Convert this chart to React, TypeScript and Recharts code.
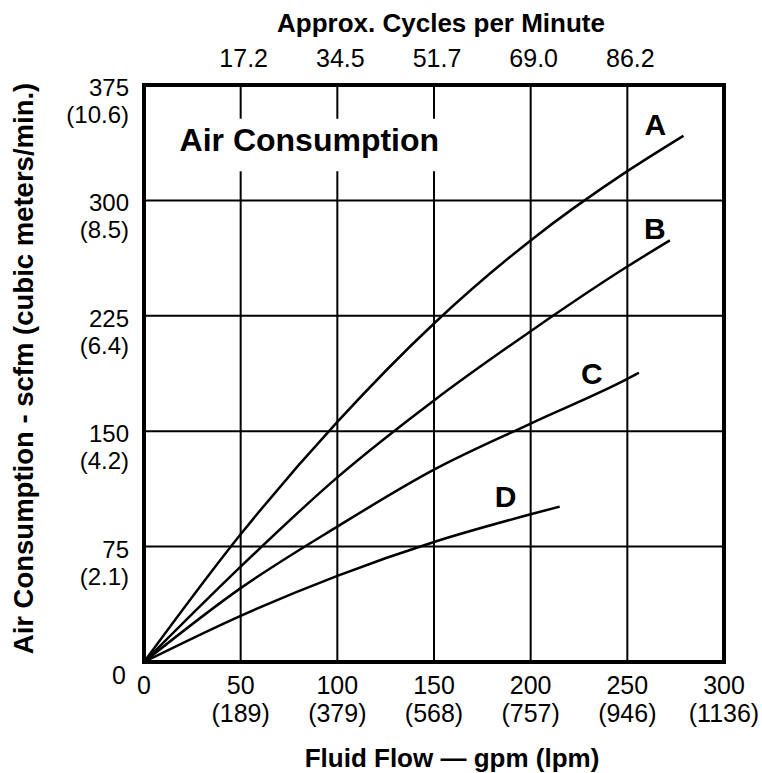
import React from 'react';
import { LineChart, Line, XAxis, YAxis, CartesianGrid, ReferenceArea } from 'recharts';

// fluid flow (gpm) vs air consumption (scfm)
const curveA = [
  { gpm: 0, scfm: 0 },
  { gpm: 50, scfm: 83 },
  { gpm: 100, scfm: 156 },
  { gpm: 150, scfm: 220 },
  { gpm: 200, scfm: 274 },
  { gpm: 250, scfm: 319 },
  { gpm: 279, scfm: 342 },
];
const curveB = [
  { gpm: 0, scfm: 0 },
  { gpm: 50, scfm: 62 },
  { gpm: 100, scfm: 120 },
  { gpm: 150, scfm: 170 },
  { gpm: 200, scfm: 215 },
  { gpm: 250, scfm: 257 },
  { gpm: 272, scfm: 274 },
];
const curveC = [
  { gpm: 0, scfm: 0 },
  { gpm: 50, scfm: 48 },
  { gpm: 100, scfm: 88 },
  { gpm: 150, scfm: 125 },
  { gpm: 200, scfm: 155 },
  { gpm: 250, scfm: 184 },
  { gpm: 256, scfm: 188 },
];
const curveD = [
  { gpm: 0, scfm: 0 },
  { gpm: 50, scfm: 30 },
  { gpm: 100, scfm: 56 },
  { gpm: 150, scfm: 78 },
  { gpm: 200, scfm: 96 },
  { gpm: 215, scfm: 101 },
];

const gpmTicks = [0, 50, 100, 150, 200, 250, 300];
const lpmLabels = ['', '(189)', '(379)', '(568)', '(757)', '(946)', '(1136)'];
const cycleTicks = [50, 100, 150, 200, 250];
const cycleLabels = ['17.2', '34.5', '51.7', '69.0', '86.2'];
const scfmTicks = [0, 75, 150, 225, 300, 375];
const cmmLabels = ['', '(2.1)', '(4.2)', '(6.4)', '(8.5)', '(10.6)'];

// rows for the axes to build their scales from
const axisRows = gpmTicks.map((g, i) => ({ gpm: g, scfm: scfmTicks[Math.min(i, scfmTicks.length - 1)] }));

const FONT = '"Liberation Sans", Arial, Helvetica, sans-serif';

const BottomTick = (props: any) => {
  const { x, y, payload } = props;
  const i = gpmTicks.indexOf(payload.value);
  return (
    <g>
      <text x={x} y={y + 30} textAnchor="middle" fontSize={25} fontFamily={FONT} fill="#000">
        {payload.value}
      </text>
      {lpmLabels[i] && (
        <text x={x} y={y + 58} textAnchor="middle" fontSize={25} fontFamily={FONT} fill="#000">
          {lpmLabels[i]}
        </text>
      )}
    </g>
  );
};

const TopTick = (props: any) => {
  const { x, y, payload } = props;
  const i = cycleTicks.indexOf(payload.value);
  return (
    <text x={x + 3} y={y - 16} textAnchor="middle" fontSize={25} fontFamily={FONT} fill="#000">
      {cycleLabels[i]}
    </text>
  );
};

const LeftTick = (props: any) => {
  const { x, y, payload } = props;
  const i = scfmTicks.indexOf(payload.value);
  if (payload.value === 0) {
    return (
      <text x={x - 16} y={y + 22} textAnchor="end" fontSize={25} fontFamily={FONT} fill="#000">
        0
      </text>
    );
  }
  return (
    <g>
      <text x={x - 13} y={y + 11} textAnchor="end" fontSize={24} fontFamily={FONT} fill="#000">
        {payload.value}
      </text>
      <text x={x - 13} y={y + 38} textAnchor="end" fontSize={24} fontFamily={FONT} fill="#000">
        {cmmLabels[i]}
      </text>
    </g>
  );
};

const endLabel = (name: string, count: number, dx: number, dy: number) => (props: any) => {
  if (props.index !== count - 1) return null;
  return (
    <text
      key={name}
      x={props.x + dx}
      y={props.y + dy}
      textAnchor="middle"
      fontSize={30}
      fontWeight="bold"
      fontFamily={FONT}
      fill="#000"
    >
      {name}
    </text>
  );
};

const App: React.FC = () => {
  return (
    <div style={{ position: 'absolute', left: 0, top: 0, background: '#fff' }}>
      <LineChart width={762} height={773} data={axisRows} margin={{ top: 0, right: 38, bottom: 0, left: 0 }}>
        <CartesianGrid xAxisId="bottom" stroke="#000" strokeWidth={2} />
        <XAxis
          xAxisId="bottom"
          type="number"
          dataKey="gpm"
          domain={[0, 300]}
          ticks={gpmTicks}
          height={111}
          axisLine={false}
          tickLine={false}
          tickSize={0}
          tick={<BottomTick />}
          interval={0}
          label={(p: any) => (
            <text
              x={452}
              y={p.viewBox.y + 105}
              textAnchor="middle"
              fontSize={26}
              fontWeight="bold"
              fontFamily={FONT}
              fill="#000"
            >
              Fluid Flow — gpm (lpm)
            </text>
          )}
        />
        <XAxis
          xAxisId="top"
          orientation="top"
          type="number"
          dataKey="gpm"
          domain={[0, 300]}
          ticks={cycleTicks}
          height={85}
          axisLine={false}
          tickLine={false}
          tickSize={0}
          tick={<TopTick />}
          interval={0}
          label={(p: any) => (
            <text
              x={441}
              y={p.viewBox.y + 32}
              textAnchor="middle"
              fontSize={26}
              fontWeight="bold"
              fontFamily={FONT}
              fill="#000"
            >
              Approx. Cycles per Minute
            </text>
          )}
        />
        <YAxis
          type="number"
          domain={[0, 375]}
          ticks={scfmTicks}
          width={144}
          axisLine={false}
          tickLine={false}
          tickSize={0}
          tick={<LeftTick />}
          interval={0}
          label={(p: any) => {
            const cx = 33;
            const cy = p.viewBox.y + p.viewBox.height / 2 - 5;
            return (
              <text
                x={cx}
                y={cy}
                transform={`rotate(-90, ${cx}, ${cy})`}
                textAnchor="middle"
                fontSize={27.5}
                fontWeight="bold"
                fontFamily={FONT}
                fill="#000"
              >
                Air Consumption - scfm (cubic meters/min.)
              </text>
            );
          }}
        />
        <ReferenceArea
          xAxisId="bottom"
          x1={15}
          x2={156}
          y1={319}
          y2={353}
          fill="#fff"
          fillOpacity={1}
          stroke="none"
          label={(p: any) => (
            <text
              x={p.viewBox.x + p.viewBox.width / 2}
              y={p.viewBox.y + p.viewBox.height / 2 + 6}
              textAnchor="middle"
              fontSize={32}
              fontWeight="bold"
              fontFamily={FONT}
              fill="#000"
            >
              Air Consumption
            </text>
          )}
        />
        <Line xAxisId="bottom" data={curveA} dataKey="scfm" type="monotone" stroke="#000" strokeWidth={2.5} dot={false} isAnimationActive={false} label={endLabel('A', curveA.length, -28, -1)} />
        <Line xAxisId="bottom" data={curveB} dataKey="scfm" type="monotone" stroke="#000" strokeWidth={2.5} dot={false} isAnimationActive={false} label={endLabel('B', curveB.length, -15, -1)} />
        <Line xAxisId="bottom" data={curveC} dataKey="scfm" type="monotone" stroke="#000" strokeWidth={2.5} dot={false} isAnimationActive={false} label={endLabel('C', curveC.length, -47, 11)} />
        <Line xAxisId="bottom" data={curveD} dataKey="scfm" type="monotone" stroke="#000" strokeWidth={2.5} dot={false} isAnimationActive={false} label={endLabel('D', curveD.length, -54, 0)} />
        <ReferenceArea
          xAxisId="bottom"
          x1={0}
          x2={300}
          y1={0}
          y2={375}
          fill="none"
          stroke="#000"
          strokeWidth={4}
        />
      </LineChart>
    </div>
  );
};

export default App;
